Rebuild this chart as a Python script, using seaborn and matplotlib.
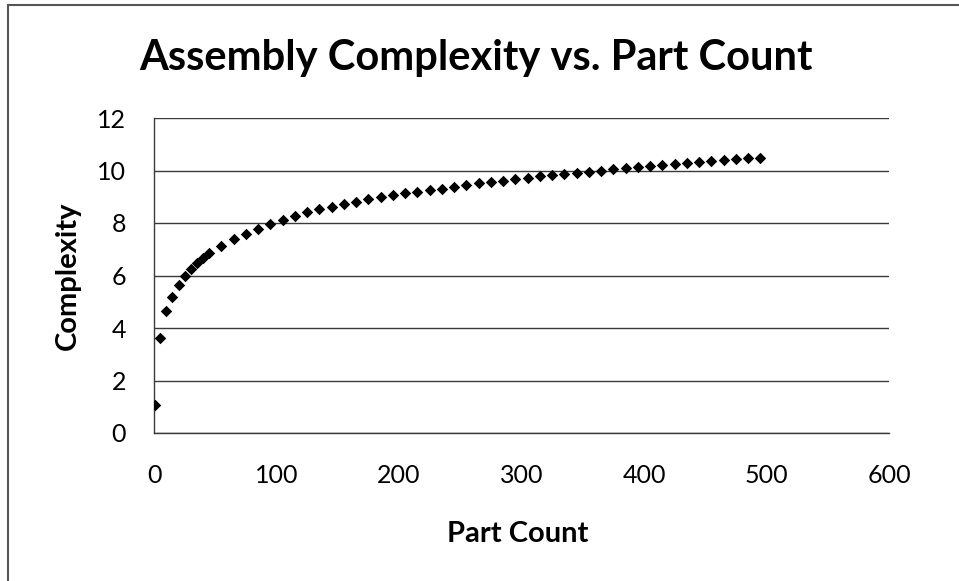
import matplotlib
matplotlib.use("Agg")
import matplotlib.pyplot as plt
import seaborn as sns
import pandas as pd
from matplotlib.patches import Rectangle

part_count = [1, 5, 10, 15, 20, 25, 30, 35, 40, 45,
              55, 65, 75, 85, 95, 105, 115, 125, 135, 145,
              155, 165, 175, 185, 195, 205, 215, 225, 235, 245,
              255, 265, 275, 285, 295, 305, 315, 325, 335, 345,
              355, 365, 375, 385, 395, 405, 415, 425, 435, 445,
              455, 465, 475, 485, 495]
complexity = [1.05, 3.62, 4.63, 5.20, 5.65, 5.98, 6.26, 6.48, 6.68, 6.86,
              7.14, 7.38, 7.60, 7.79, 7.96, 8.13, 8.28, 8.41, 8.52, 8.62,
              8.71, 8.81, 8.91, 8.99, 9.06, 9.13, 9.19, 9.26, 9.30, 9.37,
              9.43, 9.51, 9.56, 9.61, 9.67, 9.72, 9.78, 9.83, 9.87, 9.92,
              9.95, 10.00, 10.04, 10.08, 10.14, 10.18, 10.22, 10.26, 10.29, 10.33,
              10.36, 10.40, 10.43, 10.46, 10.49]
x_ticks = [0, 100, 200, 300, 400, 500, 600]
y_ticks = [0, 2, 4, 6, 8, 10, 12]

title = "Assembly Complexity vs. Part Count"
x_label = "Part Count"
y_label = "Complexity"

df = pd.DataFrame({"Part Count": part_count, "Complexity": complexity})

sns.set_theme(style="white")
plt.rcParams["font.family"] = ["Lato", "DejaVu Sans"]

fig = plt.figure(figsize=(9.59, 5.81), dpi=100)
ax = fig.add_axes([154 / 959, 1 - 433 / 581, (889 - 154) / 959, (433 - 118) / 581])

sns.scatterplot(data=df, x="Part Count", y="Complexity", marker="D", s=34,
                color="black", edgecolor="black", linewidth=0, ax=ax, zorder=3)

ax.set_xlim(0, 600)
ax.set_ylim(0, 12)
ax.set_xticks(x_ticks)
ax.set_yticks(y_ticks)
ax.set_xticklabels([str(v) for v in x_ticks])
ax.set_yticklabels([str(v) for v in y_ticks])
ax.tick_params(axis="both", which="major", labelsize=18, colors="black",
               direction="out", length=5, width=1)
ax.tick_params(axis="x", pad=17)
ax.tick_params(axis="y", pad=15)
for lbl in ax.get_xticklabels() + ax.get_yticklabels():
    lbl.set_color("black")

ax.grid(axis="y", color="#3a3a3a", linewidth=1.0)
ax.set_axisbelow(True)
for side in ["top", "right"]:
    ax.spines[side].set_visible(False)
for side in ["left", "bottom"]:
    ax.spines[side].set_visible(True)
    ax.spines[side].set_color("#3a3a3a")
    ax.spines[side].set_linewidth(1.0)

ax.set_xlabel("")
ax.set_ylabel("")
fig.text(476 / 959, 1 - 70 / 581, title, ha="center", va="baseline",
         fontsize=30, fontweight="bold", color="black")
fig.text(518 / 959, 1 - 542 / 581, x_label, ha="center", va="baseline",
         fontsize=21, fontweight="bold", color="black")
fig.text(68 / 959, 1 - 276 / 581, y_label, ha="center", va="center",
         rotation=90, fontsize=21, fontweight="bold", color="black")

# chart-area border (left and top edges visible in reference)
fig.patches.append(Rectangle((8 / 959, -0.05), 1.2, 1 - 5 / 581 + 0.05,
                             transform=fig.transFigure, fill=False,
                             edgecolor="#555555", linewidth=1.5))

fig.savefig("out.png", dpi=100)
